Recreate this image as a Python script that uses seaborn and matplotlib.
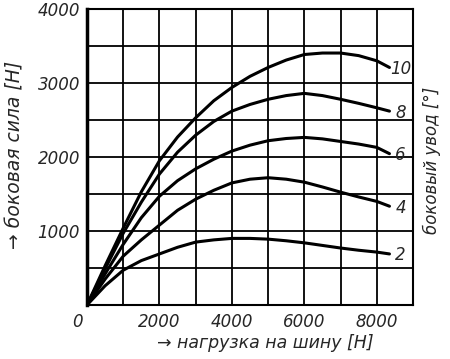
import matplotlib
matplotlib.use("Agg")
import matplotlib.pyplot as plt
import seaborn as sns
import pandas as pd

# Data: tyre load [N] vs lateral force [N] for slip angles
load = [0, 500, 1000, 1500, 2000, 2500, 3000, 3500, 4000, 4500, 5000, 5500, 6000, 6500, 7000, 7500, 8000, 8350]
force_10 = [0, 530, 1040, 1530, 1950, 2270, 2530, 2760, 2940, 3090, 3210, 3310, 3385, 3405, 3405, 3370, 3300, 3210]
force_8 = [0, 490, 970, 1390, 1770, 2065, 2295, 2480, 2620, 2710, 2780, 2830, 2860, 2830, 2780, 2725, 2665, 2620]
force_6 = [0, 420, 820, 1180, 1470, 1680, 1840, 1970, 2080, 2160, 2220, 2250, 2265, 2245, 2210, 2175, 2130, 2045]
force_4 = [0, 350, 660, 880, 1080, 1280, 1430, 1550, 1650, 1700, 1720, 1700, 1660, 1595, 1525, 1460, 1400, 1335]
force_2 = [0, 260, 470, 600, 690, 780, 850, 880, 900, 900, 890, 868, 840, 805, 770, 740, 715, 690]
angles = ["10", "8", "6", "4", "2"]

x_ticks_labels = ["", "", "2000", "", "4000", "", "6000", "", "8000", ""]
y_ticks_labels = ["", "", "1000", "", "2000", "", "3000", "", "4000"]

series = {"10": force_10, "8": force_8, "6": force_6, "4": force_4, "2": force_2}
rows = []
for a in angles:
    for xv, yv in zip(load, series[a]):
        rows.append({"load": xv, "force": yv, "angle": a})
df = pd.DataFrame(rows)

sns.set_style("white")
plt.rcParams["font.family"] = ["DejaVu Sans"]

fig = plt.figure(figsize=(4.5, 3.59), dpi=100)
ax = fig.add_axes([87 / 450, 1 - 305 / 359, (413 - 87) / 450, (305 - 9) / 359])

sns.lineplot(data=df, x="load", y="force", hue="angle", hue_order=angles,
             palette={a: "black" for a in angles}, linewidth=2.2,
             legend=False, sort=False, ax=ax)

ax.set_xlim(0, 9000)
ax.set_ylim(0, 4000)
ax.set_xticks(range(0, 9001, 1000))
ax.set_xticklabels(x_ticks_labels)
ax.set_yticks(range(0, 4001, 500))
ax.set_yticklabels(y_ticks_labels)
ax.grid(True, color="black", linewidth=1.3)
ax.tick_params(length=0, labelsize=12)
ax.tick_params(axis="x", pad=6)
ax.tick_params(axis="y", pad=5)
for lab in ax.get_xticklabels() + ax.get_yticklabels():
    lab.set_fontstyle("italic")
for s in ax.spines.values():
    s.set_color("black")
    s.set_linewidth(1.5)
ax.spines["left"].set_linewidth(2.5)

ax.set_xlabel("→ нагрузка на шину [Н]", fontsize=12.5, fontstyle="italic")
ax.xaxis.set_label_coords((265 - 87) / 326, -(334 - 305) / 296)
ax.set_ylabel("→ боковая сила [Н]", fontsize=13.5, fontstyle="italic")
ax.yaxis.set_label_coords(-(87 - 25) / 326, (305 - 155) / 296)

ax.annotate("0", xy=(0, 0), xycoords="data", xytext=(-7, -12), textcoords="offset points",
            ha="center", va="center", fontsize=12, fontstyle="italic")

for a in angles:
    ax.annotate(a, xy=(load[-1], series[a][-1]), xycoords="data", xytext=(8, -1),
                textcoords="offset points", ha="center", va="center",
                fontsize=12, fontstyle="italic")

fig.text(432 / 450, 1 - 160 / 359, "боковый увод [°]", rotation=90, ha="center", va="center",
         fontsize=12, fontstyle="italic")

fig.savefig("out.png", dpi=100)
